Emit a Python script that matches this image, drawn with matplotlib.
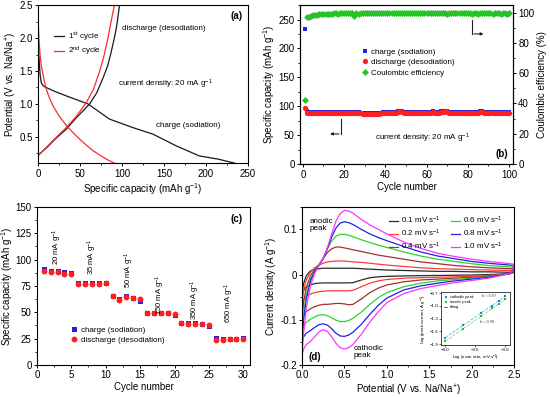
import numpy as np
import matplotlib
matplotlib.use("Agg")
import matplotlib.pyplot as plt
from matplotlib.ticker import AutoMinorLocator, MultipleLocator

plt.rcParams['font.family'] = ['Liberation Sans', 'DejaVu Sans']
plt.rcParams['mathtext.fontset'] = 'custom'
plt.rcParams['mathtext.rm'] = 'Liberation Sans'
plt.rcParams['mathtext.it'] = 'Liberation Sans:italic'
plt.rcParams['axes.linewidth'] = 0.8
plt.rcParams['xtick.major.width'] = 0.7
plt.rcParams['ytick.major.width'] = 0.7
plt.rcParams['xtick.minor.width'] = 0.6
plt.rcParams['ytick.minor.width'] = 0.6
plt.rcParams['xtick.major.size'] = 2.5
plt.rcParams['ytick.major.size'] = 2.5
plt.rcParams['xtick.minor.size'] = 1.5
plt.rcParams['ytick.minor.size'] = 1.5
plt.rcParams['xtick.labelsize'] = 7
plt.rcParams['ytick.labelsize'] = 7
plt.rcParams['axes.labelsize'] = 7
plt.rcParams['xtick.major.pad'] = 1.5
plt.rcParams['ytick.major.pad'] = 1.2

# ---------------- (a) galvanostatic profiles ----------------
c1_sod_cap = [0, 1, 2.5, 4, 6, 8, 20, 34, 59.5, 85, 113, 137, 165, 192, 215, 234]
c1_sod_V = [2.05, 1.75, 1.45, 1.32, 1.28, 1.26, 1.19, 1.12, 1.0, 0.77, 0.64, 0.54, 0.36, 0.21, 0.16, 0.1]
c1_des_cap = [0, 10, 20, 34, 45, 61.5, 70, 77, 83, 87, 90, 93, 95, 97]
c1_des_V = [0.22, 0.33, 0.46, 0.62, 0.78, 1.0, 1.17, 1.38, 1.58, 1.78, 1.95, 2.13, 2.3, 2.5]
c2_sod_cap = [0, 0.5, 1.2, 2.5, 4, 7, 10, 14, 18, 25, 34, 42, 50, 58, 65.5, 75, 83, 91]
c2_sod_V = [2.5, 2.2, 1.98, 1.75, 1.58, 1.38, 1.22, 1.08, 0.97, 0.82, 0.67, 0.56, 0.46, 0.37, 0.29, 0.21, 0.15, 0.1]
c2_des_cap = [0, 10, 20, 32, 45, 57.5, 66, 73, 78, 83, 87, 91]
c2_des_V = [0.21, 0.34, 0.47, 0.62, 0.8, 1.02, 1.22, 1.48, 1.7, 1.98, 2.25, 2.5]

# ---------------- (b) cycling ----------------
cycles_b = list(range(1, 101))
charge_b = [233, 91.5, 90, 89.5, 89.5, 89.5, 89.5, 89.5, 89.5, 89.5,
            89.5, 89.5, 89.5, 89.5, 90, 90, 90, 89.5, 89.5, 89.5,
            90, 90.5, 90.5, 90.5, 90, 90.5, 90.5, 89, 88, 88,
            87.5, 87.5, 87.5, 87.5, 87.5, 88, 88.5, 89, 89.5, 90,
            90, 90.5, 90.5, 90, 90.5, 91, 92.5, 92, 90.5, 90,
            89.5, 89.5, 89.5, 90, 90, 90, 90, 90, 90, 90.5,
            90, 90, 91, 90, 90, 90.5, 91, 92, 92.5, 91.5,
            90.5, 90, 89.5, 89.5, 89.5, 89.5, 89.5, 90, 90, 90,
            90, 90, 90, 90.5, 90.5, 91, 91, 90.5, 90, 90,
            90, 89.5, 89.5, 89.5, 89.5, 89.5, 89.5, 89.5, 89.5, 89.5]
discharge_b = [97, 88.5, 88, 88, 88, 88, 88, 88, 88, 88,
               88, 88, 88, 88, 88.5, 88.5, 88.5, 88, 88, 88,
               88.5, 89, 89, 89, 88.5, 89, 89, 87.5, 86.5, 86.5,
               86, 86, 86, 86, 86, 86.5, 87, 87.5, 88, 88.5,
               88.5, 89, 89, 88.5, 89, 89.5, 91, 90.5, 89, 88.5,
               88, 88, 88, 88.5, 88.5, 88.5, 88.5, 88.5, 88.5, 89,
               88.5, 88.5, 89.5, 88.5, 88.5, 89, 89.5, 90.5, 91, 90,
               89, 88.5, 88, 88, 88, 88, 88, 88.5, 88.5, 88.5,
               88.5, 88.5, 88.5, 89, 89, 89.5, 89.5, 89, 88.5, 88.5,
               88.5, 88, 88, 88, 88, 88, 88, 88, 88, 88]
ce_b = [42, 97, 97.5, 98, 98.3, 98.6, 98.8, 99, 99.1, 99.2,
        99.3, 99.4, 99.4, 99.4, 99.5, 99.5, 99.4, 99.5, 99.5, 99.5,
        99.5, 99.6, 99.5, 99.6, 97.8, 99.5, 99.4, 99.5, 99.5, 99.6,
        99.5, 99.5, 99.6, 99.5, 99.5, 99.6, 99.5, 99.6, 99.7, 99.6,
        99.6, 99.7, 99.6, 99.7, 99.8, 99.7, 99.7, 99.6, 99.6, 99.5,
        99.5, 99.6, 99.5, 99.6, 99.5, 99.6, 99.6, 99.5, 99.6, 99.6,
        99.5, 99.5, 99.6, 99.5, 99.5, 99.6, 99.6, 99.5, 99.5, 99.4,
        99.5, 99.5, 99.6, 99.5, 99.5, 99.6, 99.5, 99.5, 99.6, 99.5,
        99.5, 99.4, 99.5, 99.5, 99.4, 99.5, 99.5, 99.6, 99.5, 99.5,
        99.5, 99.4, 99.5, 99.5, 99.5, 99.4, 99.5, 99.5, 99.4, 99.5]

# ---------------- (c) rate capability ----------------
cycles_c = list(range(1, 31))
charge_c = [91, 89.5, 89.5, 88, 87.5, 77.5, 77.5, 78, 78, 78,
            65, 62.5, 65, 63.5, 61, 49.5, 49.5, 49.5, 49.5, 47.5,
            40, 39.5, 39.5, 39, 37, 25.5, 24.5, 24.5, 25, 25.5]
discharge_c = [89, 88, 88, 86.5, 86.5, 77, 77, 76.5, 76.5, 77.5,
               65, 62, 64, 63, 62.5, 49.5, 49, 49, 49, 48.5,
               39.5, 39, 39, 38.5, 38, 23.5, 24, 24.5, 24.5, 25]
rate_labels = ['20 mA g$^{-1}$', '35 mA g$^{-1}$', '50 mA g$^{-1}$',
               '150 mA g$^{-1}$', '350 mA g$^{-1}$', '650 mA g$^{-1}$']
rate_label_x = [3.0, 8.1, 13.4, 18.0, 23.0, 28.0]
rate_label_y = [95, 85, 73, 47, 43, 40]

# ---------------- (d) CV curves ----------------
pot = [0, 0.02, 0.05, 0.1, 0.15, 0.2, 0.25, 0.3, 0.35, 0.4, 0.45, 0.5, 0.55, 0.6,
       0.7, 0.8, 0.9, 1.0, 1.2, 1.4, 1.6, 1.8, 2.0, 2.2, 2.45, 2.5]
scan_labels = ['0.1 mV s$^{-1}$', '0.2 mV s$^{-1}$', '0.4 mV s$^{-1}$',
               '0.6 mV s$^{-1}$', '0.8 mV s$^{-1}$', '1.0 mV s$^{-1}$']
scan_colors = ['#2b2b2b', '#ff3b3b', '#a3302e', '#2fd12f', '#2020e6', '#ff33ff']
anodic = [
    [-0.044, -0.02, -0.003, 0.008, 0.012, 0.013, 0.014, 0.014, 0.014, 0.014, 0.014, 0.014, 0.014, 0.014,
     0.013, 0.012, 0.011, 0.010, 0.009, 0.008, 0.007, 0.007, 0.006, 0.006, 0.005, 0.005],
    [-0.063, -0.035, -0.012, 0.005, 0.015, 0.021, 0.025, 0.028, 0.029, 0.030, 0.030, 0.030, 0.029, 0.028,
     0.027, 0.025, 0.023, 0.021, 0.018, 0.015, 0.013, 0.012, 0.011, 0.010, 0.009, 0.009],
    [-0.10, -0.06, -0.03, -0.003, 0.012, 0.022, 0.035, 0.049, 0.057, 0.061, 0.061, 0.059, 0.057, 0.055,
     0.051, 0.047, 0.043, 0.040, 0.034, 0.028, 0.024, 0.020, 0.017, 0.015, 0.013, 0.012],
    [-0.126, -0.085, -0.045, -0.01, 0.01, 0.022, 0.037, 0.057, 0.074, 0.085, 0.089, 0.089, 0.087, 0.084,
     0.077, 0.071, 0.065, 0.060, 0.050, 0.041, 0.034, 0.029, 0.024, 0.020, 0.017, 0.016],
    [-0.148, -0.10, -0.055, -0.015, 0.008, 0.02, 0.035, 0.058, 0.083, 0.103, 0.114, 0.117, 0.115, 0.111,
     0.100, 0.090, 0.082, 0.075, 0.062, 0.050, 0.041, 0.035, 0.029, 0.025, 0.021, 0.020],
    [-0.178, -0.13, -0.075, -0.025, 0.003, 0.02, 0.035, 0.06, 0.09, 0.118, 0.135, 0.142, 0.141, 0.136,
     0.122, 0.110, 0.100, 0.090, 0.072, 0.058, 0.047, 0.040, 0.034, 0.029, 0.024, 0.023],
]
cathodic = [
    [-0.044, -0.035, -0.028, -0.023, -0.020, -0.019, -0.0185, -0.0185, -0.0185, -0.0185, -0.0185, -0.0185, -0.0185, -0.018,
     -0.012, -0.007, -0.005, -0.004, -0.003, -0.0025, -0.002, -0.0015, -0.001, 0.0, 0.002, 0.005],
    [-0.063, -0.055, -0.048, -0.043, -0.040, -0.038, -0.037, -0.036, -0.036, -0.036, -0.036, -0.036, -0.036, -0.035,
     -0.027, -0.019, -0.014, -0.011, -0.008, -0.007, -0.006, -0.005, -0.004, -0.002, 0.002, 0.009],
    [-0.10, -0.09, -0.082, -0.076, -0.071, -0.068, -0.066, -0.066, -0.065, -0.064, -0.064, -0.065, -0.067, -0.066,
     -0.054, -0.040, -0.030, -0.023, -0.016, -0.012, -0.010, -0.008, -0.006, -0.004, 0.002, 0.012],
    [-0.126, -0.115, -0.106, -0.099, -0.094, -0.09, -0.089, -0.091, -0.096, -0.101, -0.104, -0.104, -0.102, -0.097,
     -0.083, -0.066, -0.051, -0.040, -0.027, -0.019, -0.014, -0.011, -0.008, -0.005, 0.002, 0.016],
    [-0.148, -0.138, -0.130, -0.124, -0.117, -0.111, -0.109, -0.112, -0.12, -0.13, -0.136, -0.137, -0.134, -0.128,
     -0.110, -0.088, -0.068, -0.052, -0.034, -0.025, -0.019, -0.014, -0.010, -0.006, 0.002, 0.020],
    [-0.178, -0.165, -0.155, -0.148, -0.138, -0.127, -0.122, -0.126, -0.138, -0.152, -0.162, -0.165, -0.162, -0.155,
     -0.132, -0.105, -0.082, -0.062, -0.042, -0.031, -0.024, -0.018, -0.013, -0.008, 0.002, 0.023],
]

# inset (d)
log_scan = [-4.0, -3.7, -3.4, -3.22, -3.1, -3.0]
log_cath = [-1.75, -1.45, -1.17, -1.00, -0.88, -0.78]
log_anod = [-1.83, -1.54, -1.24, -1.06, -0.95, -0.85]

fig = plt.figure(figsize=(5.5, 3.97), dpi=100)

def minor(ax):
    ax.xaxis.set_minor_locator(AutoMinorLocator(2))
    ax.yaxis.set_minor_locator(AutoMinorLocator(2))

# ---- (a)
axa = fig.add_axes([0.069, 0.589, 0.382, 0.398])
axa.plot(c1_sod_cap, c1_sod_V, color='#1a1a1a', lw=0.9)
axa.plot(c1_des_cap, c1_des_V, color='#1a1a1a', lw=0.9, label='1$^{\\rm st}$ cycle')
axa.plot(c2_sod_cap, c2_sod_V, color='#ff2a2a', lw=0.9)
axa.plot(c2_des_cap, c2_des_V, color='#ff2a2a', lw=0.9, label='2$^{\\rm nd}$ cycle')
axa.set_xlim(0, 250)
axa.set_ylim(0.1, 2.5)
axa.xaxis.set_major_locator(MultipleLocator(50))
axa.yaxis.set_major_locator(MultipleLocator(0.5))
minor(axa)
axa.set_xlabel('Specific capacity (mAh g$^{-1}$)', labelpad=1.5)
axa.set_ylabel('Potential (V vs. Na/Na$^{+}$)', labelpad=0.5)
axa.legend(loc='upper left', bbox_to_anchor=(0.06, 0.86), frameon=False, fontsize=5.8,
           handlelength=1.3, handletextpad=0.5, labelspacing=0.25, borderaxespad=0)
axa.text(100, 2.15, 'discharge (desodiation)', fontsize=5.8, va='center')
axa.text(95, 1.30, 'current density: 20 mA g$^{-1}$', fontsize=5.8, va='center')
axa.text(140, 0.67, 'charge (sodiation)', fontsize=5.8, va='center')
axa.text(0.975, 0.93, '(a)', transform=axa.transAxes, fontsize=7, fontweight='bold', ha='right', va='center')

# ---- (b)
axb = fig.add_axes([0.545, 0.587, 0.388, 0.400])
axb2 = axb.twinx()
axb.plot(cycles_b, charge_b, 's', color='#2323e8', ms=3.2, mew=0, label='charge (sodiation)')
axb.plot(cycles_b, discharge_b, 'o', color='#ff1f1f', ms=3.8, mew=0, label='discharge (desodiation)')
axb2.plot(cycles_b, ce_b, 'D', color='#22c322', ms=3.5, mew=0, label='Coulombic efficiency')
axb.set_xlim(-1.5, 102)
axb.set_ylim(0, 275)
axb2.set_ylim(0, 105)
axb.xaxis.set_major_locator(MultipleLocator(20))
axb.yaxis.set_major_locator(MultipleLocator(50))
axb2.yaxis.set_major_locator(MultipleLocator(20))
minor(axb)
axb2.yaxis.set_minor_locator(AutoMinorLocator(2))
axb.set_xlabel('Cycle number', labelpad=1.5)
axb.set_ylabel('Specific capacity (mAh g$^{-1}$)', labelpad=1.0)
axb2.set_ylabel('Coulombic efficiency (%)', labelpad=2)
h1, l1 = axb.get_legend_handles_labels()
h2, l2 = axb2.get_legend_handles_labels()
axb.legend(h1 + h2, l1 + l2, loc='upper left', bbox_to_anchor=(0.27, 0.75), frameon=False,
           fontsize=5.8, handlelength=1.0, handletextpad=0.3, labelspacing=0.35, borderaxespad=0)
axb.text(35, 45, 'current density: 20 mA g$^{-1}$', fontsize=5.8, va='center')
axb.text(0.975, 0.065, '(b)', transform=axb.transAxes, fontsize=7, fontweight='bold', ha='right', va='center')
axb.plot([18.6, 18.6], [77, 52], color='#222222', lw=0.8)
axb.annotate('', xy=(11.8, 52), xytext=(18.9, 52),
             arrowprops=dict(arrowstyle='-|>', color='#222222', lw=0.8, mutation_scale=4))
axb2.plot([82, 82], [95, 86], color='#222222', lw=0.8)
axb2.annotate('', xy=(89, 86), xytext=(81.7, 86),
              arrowprops=dict(arrowstyle='-|>', color='#222222', lw=0.8, mutation_scale=4))

# ---- (c)
axc = fig.add_axes([0.067, 0.081, 0.388, 0.398])
axc.plot(cycles_c, charge_c, 's', color='#2323e8', ms=3.6, mew=0, label='charge (sodiation)')
axc.plot(cycles_c, discharge_c, 'o', color='#ff1f1f', ms=4.2, mew=0, label='discharge (desodiation)')
axc.set_xlim(0, 31)
axc.set_ylim(0, 150)
axc.xaxis.set_major_locator(MultipleLocator(5))
axc.yaxis.set_major_locator(MultipleLocator(25))
minor(axc)
axc.set_xlabel('Cycle number', labelpad=1.5)
axc.set_ylabel('Specific capacity (mAh g$^{-1}$)', labelpad=0.3)
axc.legend(loc='lower left', bbox_to_anchor=(0.14, 0.11), frameon=False, fontsize=5.8,
           handlelength=1.0, handletextpad=0.4, labelspacing=0.35, borderaxespad=0)
for lab, xx, yy in zip(rate_labels, rate_label_x, rate_label_y):
    axc.text(xx, yy, lab, rotation=90, fontsize=5.5, ha='center', va='bottom')
axc.text(0.965, 0.92, '(c)', transform=axc.transAxes, fontsize=7, fontweight='bold', ha='right', va='center')

# ---- (d)
axd = fig.add_axes([0.549, 0.081, 0.386, 0.398])
for a_cur, c_cur, col, lab in zip(anodic, cathodic, scan_colors, scan_labels):
    axd.plot(pot, a_cur, color=col, lw=0.9, label=lab)
    axd.plot(pot, c_cur, color=col, lw=0.9)
axd.set_xlim(0, 2.5)
axd.set_ylim(-0.2, 0.15)
axd.xaxis.set_major_locator(MultipleLocator(0.5))
axd.set_yticks([-0.2, -0.1, 0, 0.1])
axd.set_yticklabels(['-0.2', '-0.1', '0', '0.1'])
minor(axd)
axd.set_xlabel('Potential (V vs. Na/Na$^{+}$)', labelpad=1.5)
axd.set_ylabel('Current density (A g$^{-1}$)', labelpad=1.0)
axd.legend(ncol=2, loc='upper right',
           bbox_to_anchor=(0.96, 0.97), frameon=False, fontsize=5.8, handlelength=1.1,
           handletextpad=0.4, labelspacing=0.2, columnspacing=1.2, borderaxespad=0)
axd.text(0.035, 0.93, 'anodic\npeak', transform=axd.transAxes, fontsize=5.8, va='top', linespacing=1.1)
axd.text(0.61, -0.155, 'cathodic\npeak', fontsize=5.8, va='top', linespacing=1.1)
axd.text(0.03, 0.05, '(d)', transform=axd.transAxes, fontsize=7, fontweight='bold', va='center')

# inset
axi = fig.add_axes([0.802, 0.131, 0.125, 0.133])
axi.set_facecolor('white')
pc = np.polyfit(log_scan, log_cath, 1)
pa = np.polyfit(log_scan, log_anod, 1)
xs = np.array([min(log_scan), max(log_scan)])
axi.plot(xs, np.polyval(pc, xs), '--', color='#6aaee8', lw=0.6)
axi.plot(xs, np.polyval(pa, xs), '--', color='#7fd67f', lw=0.6)
axi.plot(log_scan, log_cath, 's', color='#1e7ee6', ms=1.6, mew=0, label='cathodic peak')
axi.plot(log_scan, log_anod, 's', color='#1fbf1f', ms=1.6, mew=0, label='anodic peak')
axi.plot([], [], '--', color='#1a3a6a', lw=0.6, label='fitting')
axi.set_xlim(-4.07, -2.92)
axi.set_ylim(-1.92, -0.68)
axi.set_xticks([-4.0, -3.5, -3.0])
axi.set_yticks([-1.9, -1.6, -1.3, -1.0, -0.7])
axi.tick_params(labelsize=3.2, length=1.2, width=0.4, pad=0.8)
for s in axi.spines.values():
    s.set_linewidth(0.5)
axi.set_xlabel('Log (scan rate, mV s$^{-1}$)', fontsize=3.2, labelpad=0.5)
axi.set_ylabel('Log (peak current, A g$^{-1}$)', fontsize=3.2, labelpad=0.5)
axi.legend(loc='upper left', frameon=False, fontsize=2.8, handlelength=1.2, handletextpad=0.4,
           labelspacing=0.3, borderaxespad=0.3, markerscale=1.0)
axi.text(-3.38, -0.80, 'b = 0.97', fontsize=2.8, color='#444444')
axi.text(-3.42, -1.40, 'b = 0.98', fontsize=2.8, color='#444444')

fig.savefig('out.png', dpi=100)
